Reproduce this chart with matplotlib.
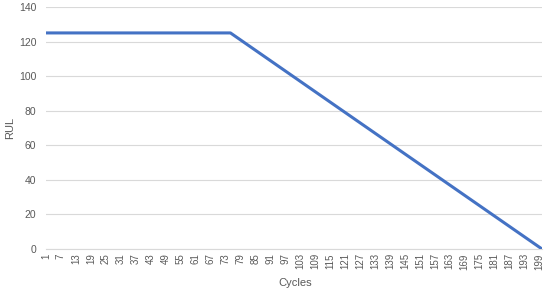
import matplotlib
matplotlib.use("Agg")
import matplotlib.pyplot as plt

# Data
cycles = list(range(1, 201))
rul = [
    125, 125, 125, 125, 125, 125, 125, 125, 125, 125,
    125, 125, 125, 125, 125, 125, 125, 125, 125, 125,
    125, 125, 125, 125, 125, 125, 125, 125, 125, 125,
    125, 125, 125, 125, 125, 125, 125, 125, 125, 125,
    125, 125, 125, 125, 125, 125, 125, 125, 125, 125,
    125, 125, 125, 125, 125, 125, 125, 125, 125, 125,
    125, 125, 125, 125, 125, 125, 125, 125, 125, 125,
    125, 125, 125, 125, 125, 124, 123, 122, 121, 120,
    119, 118, 117, 116, 115, 114, 113, 112, 111, 110,
    109, 108, 107, 106, 105, 104, 103, 102, 101, 100,
    99, 98, 97, 96, 95, 94, 93, 92, 91, 90,
    89, 88, 87, 86, 85, 84, 83, 82, 81, 80,
    79, 78, 77, 76, 75, 74, 73, 72, 71, 70,
    69, 68, 67, 66, 65, 64, 63, 62, 61, 60,
    59, 58, 57, 56, 55, 54, 53, 52, 51, 50,
    49, 48, 47, 46, 45, 44, 43, 42, 41, 40,
    39, 38, 37, 36, 35, 34, 33, 32, 31, 30,
    29, 28, 27, 26, 25, 24, 23, 22, 21, 20,
    19, 18, 17, 16, 15, 14, 13, 12, 11, 10,
    9, 8, 7, 6, 5, 4, 3, 2, 1, 0,
]
x_tick_labels = [str(c) for c in cycles[::6]]
y_ticks = [0, 20, 40, 60, 80, 100, 120, 140]

plt.rcParams['font.family'] = ['Liberation Sans', 'DejaVu Sans']
text_color = '#595959'
grid_color = '#d9d9d9'

fig = plt.figure(figsize=(5.5, 2.93), dpi=100)
ax = fig.add_axes([46 / 550, 1 - 249 / 293, (542 - 46) / 550, (249 - 7) / 293])

ax.plot(cycles, rul, color='#4472C4', linewidth=2.2, solid_capstyle='round', zorder=3)

ax.set_xlim(cycles[0], cycles[-1])
ax.set_ylim(0, 140)
ax.set_yticks(y_ticks)
ax.set_xticks(cycles[::6])
ax.set_xticklabels(x_tick_labels, rotation=90)

ax.grid(axis='y', color=grid_color, linewidth=0.8)
ax.set_axisbelow(True)
for s in ['top', 'right', 'left']:
    ax.spines[s].set_visible(False)
ax.spines['bottom'].set_color(grid_color)
ax.spines['bottom'].set_linewidth(0.8)

ax.tick_params(axis='y', length=0, pad=7, labelsize=7.5, labelcolor=text_color)
ax.tick_params(axis='x', length=0, pad=3, labelsize=7, labelcolor=text_color)

ax.set_xlabel('Cycles', fontsize=8, color=text_color)
ax.set_ylabel('RUL', fontsize=8, color=text_color)
ax.xaxis.set_label_coords((295 - 46) / 496, (249 - 283) / 242)
ax.yaxis.set_label_coords((10 - 46) / 496, (249 - 128) / 242)
ax.xaxis.label.set_va('center')
ax.yaxis.label.set_va('center')

fig.savefig('out.png', dpi=100, facecolor='white')
